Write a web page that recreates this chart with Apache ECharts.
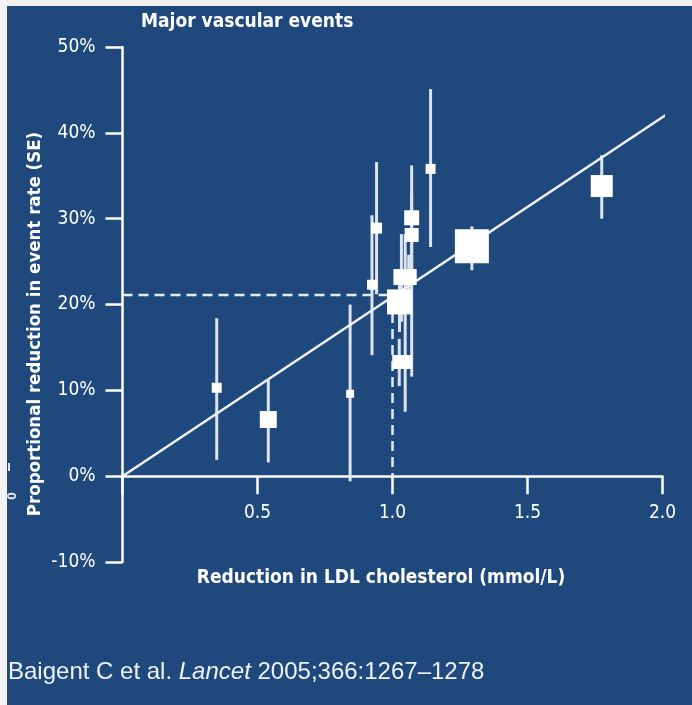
<!DOCTYPE html>
<html><head><meta charset="utf-8">
<script src="https://cdn.jsdelivr.net/npm/echarts@6/dist/echarts.min.js"></script>
<style>html,body{margin:0;padding:0;background:#1f497d}#c{width:692px;height:705px}</style>
</head><body><div id="c"></div>
<script>
// ---- data ----
const ldl       = [0.349, 0.540, 0.843, 0.924, 0.941, 1.026, 1.033, 1.060, 1.025, 1.047, 1.071, 1.071, 1.141, 1.294, 1.775];
const effect    = [10.3,  6.6,   9.6,   22.3,  28.9,  20.3,  23.2,  23.2,  13.3,  13.3,  30.1,  28.1,  35.8,  26.8,  33.8];
const ciLow     = [1.9,   1.6,  -0.6,   14.1,  21.2,  16.8,  18.0,  20.5,  10.5,   7.5,  24.0,  11.6,  26.7,  24.0,  30.0];
const ciHigh    = [18.4,  11.2,  20.0,  30.4,  36.6,  23.8,  28.2,  25.8,  16.0,  28.2,  36.2,  33.0,  45.1,  29.1,  37.4];
const squareSize= [10,    17,    8,     10,    11,    25,    16,    16,    14,    14,    15,    14,    10,    34,    22];
const regLine   = [[0, 0], [2.028, 42.4]];
const refX = 1.0, refY = 21.1;
const xTicks = [0, 0.5, 1.0, 1.5, 2.0];
const yTicks = [-10, 0, 10, 20, 30, 40, 50];
const titleText = 'Major vascular events';
const xName = 'Reduction in LDL cholesterol (mmol/L)';
const yName = 'Proportional reduction in event rate (SE)';

const FONT = '"Liberation Sans Narrow", "DejaVu Sans Condensed", Roboto, sans-serif';
const FONT2 = '"Liberation Sans", Arial, sans-serif';
const W = '#ffffff';
const gridTop = 47, gridH = 515;
const yMin = yTicks[0], yMax = yTicks[yTicks.length - 1];
// move x axis up so it sits on y = 0 (distance from grid bottom to the zero line)
const zeroOffset = -gridH * (0 - yMin) / (yMax - yMin);

const chart = echarts.init(document.getElementById('c'), null, {renderer: 'canvas'});
chart.setOption({
  animation: false,
  backgroundColor: '#1f497d',
  grid: {left: 122.5, top: gridTop, right: 29.5, bottom: 705 - gridTop - gridH, containLabel: false, outerBoundsMode: 'none'},
  xAxis: {
    type: 'value', min: xTicks[0], max: xTicks[xTicks.length - 1], interval: 0.5,
    position: 'bottom', offset: zeroOffset,
    splitLine: {show: false},
    axisLine: {show: true, onZero: false, lineStyle: {color: W, width: 2.5}},
    axisTick: {show: true, length: 18, lineStyle: {color: W, width: 2.5}},
    axisLabel: {color: W, fontSize: 19, fontFamily: FONT, margin: 27,
      formatter: v => (v === 0 ? '' : v.toFixed(1))}
  },
  yAxis: {
    type: 'value', min: yMin, max: yMax, interval: 10,
    splitLine: {show: false},
    axisLine: {show: true, onZero: false, lineStyle: {color: W, width: 2.5}},
    axisTick: {show: true, length: 17, lineStyle: {color: W, width: 2.5}},
    axisLabel: {color: W, fontSize: 19, fontFamily: FONT, margin: 27, formatter: v => v + '%'}
  },
  series: [
    {type: 'line', data: [[0, refY], [refX, refY], [refX, 0]], symbol: 'none', silent: true, z: 1,
     lineStyle: {color: '#e6ebf2', width: 2.5, type: [10, 6]}},
    {type: 'custom', z: 2, silent: true, clip: false,
     encode: {x: 0, y: [1, 2]},
     data: ldl.map((x, i) => [x, ciLow[i], ciHigh[i]]),
     renderItem: (params, api) => {
       const x = api.value(0);
       const p1 = api.coord([x, api.value(1)]);
       const p2 = api.coord([x, api.value(2)]);
       return {type: 'line', shape: {x1: p1[0], y1: p1[1], x2: p2[0], y2: p2[1]},
               style: {stroke: '#dce3ed', lineWidth: 3}};
     }},
    {type: 'line', data: regLine, symbol: 'none', clip: false, silent: true, z: 3,
     lineStyle: {color: '#eef2f7', width: 2.5}},
    {type: 'scatter', symbol: 'rect', z: 4, silent: true,
     itemStyle: {color: W, opacity: 1},
     data: ldl.map((x, i) => ({value: [x, effect[i]], symbolSize: squareSize[i]}))}
  ],
  graphic: [
    {type: 'text', left: 141, top: 13, z: 10,
     style: {text: titleText, fill: W, font: 'bold 19px ' + FONT}},
    {type: 'text', x: 381, y: 578, z: 10,
     style: {text: xName, fill: W, font: 'bold 19px ' + FONT, align: 'center', verticalAlign: 'middle'}},
    {type: 'text', x: 35, y: 324, rotation: Math.PI / 2, z: 10,
     style: {text: yName, fill: W, font: 'bold 18.5px ' + FONT, align: 'center', verticalAlign: 'middle'}},
    {type: 'text', x: 13, y: 496, rotation: Math.PI / 2, z: 10,
     style: {text: '0', fill: '#dfe6ef', font: 'bold 12px ' + FONT, align: 'center', verticalAlign: 'middle'}},
    {type: 'rect', shape: {x: 8, y: 463, width: 2, height: 8}, style: {fill: '#dfe6ef'}, z: 10},
    {type: 'text', x: 8, y: 672, z: 10,
     style: {
       text: '{a|Baigent C et al. }{b|Lancet}{a| 2005;366:1267–1278}',
       verticalAlign: 'middle',
       rich: {
         a: {fill: '#eef2f7', font: '24px ' + FONT2},
         b: {fill: '#eef2f7', font: 'italic 24px ' + FONT2}
       }
     }},
    {type: 'rect', shape: {x: 0, y: 0, width: 692, height: 6}, style: {fill: '#f0f0f0'}, z: 20},
    {type: 'rect', shape: {x: 0, y: 0, width: 7, height: 705}, style: {fill: '#f2f2f2'}, z: 20}
  ]
});
</script></body></html>
